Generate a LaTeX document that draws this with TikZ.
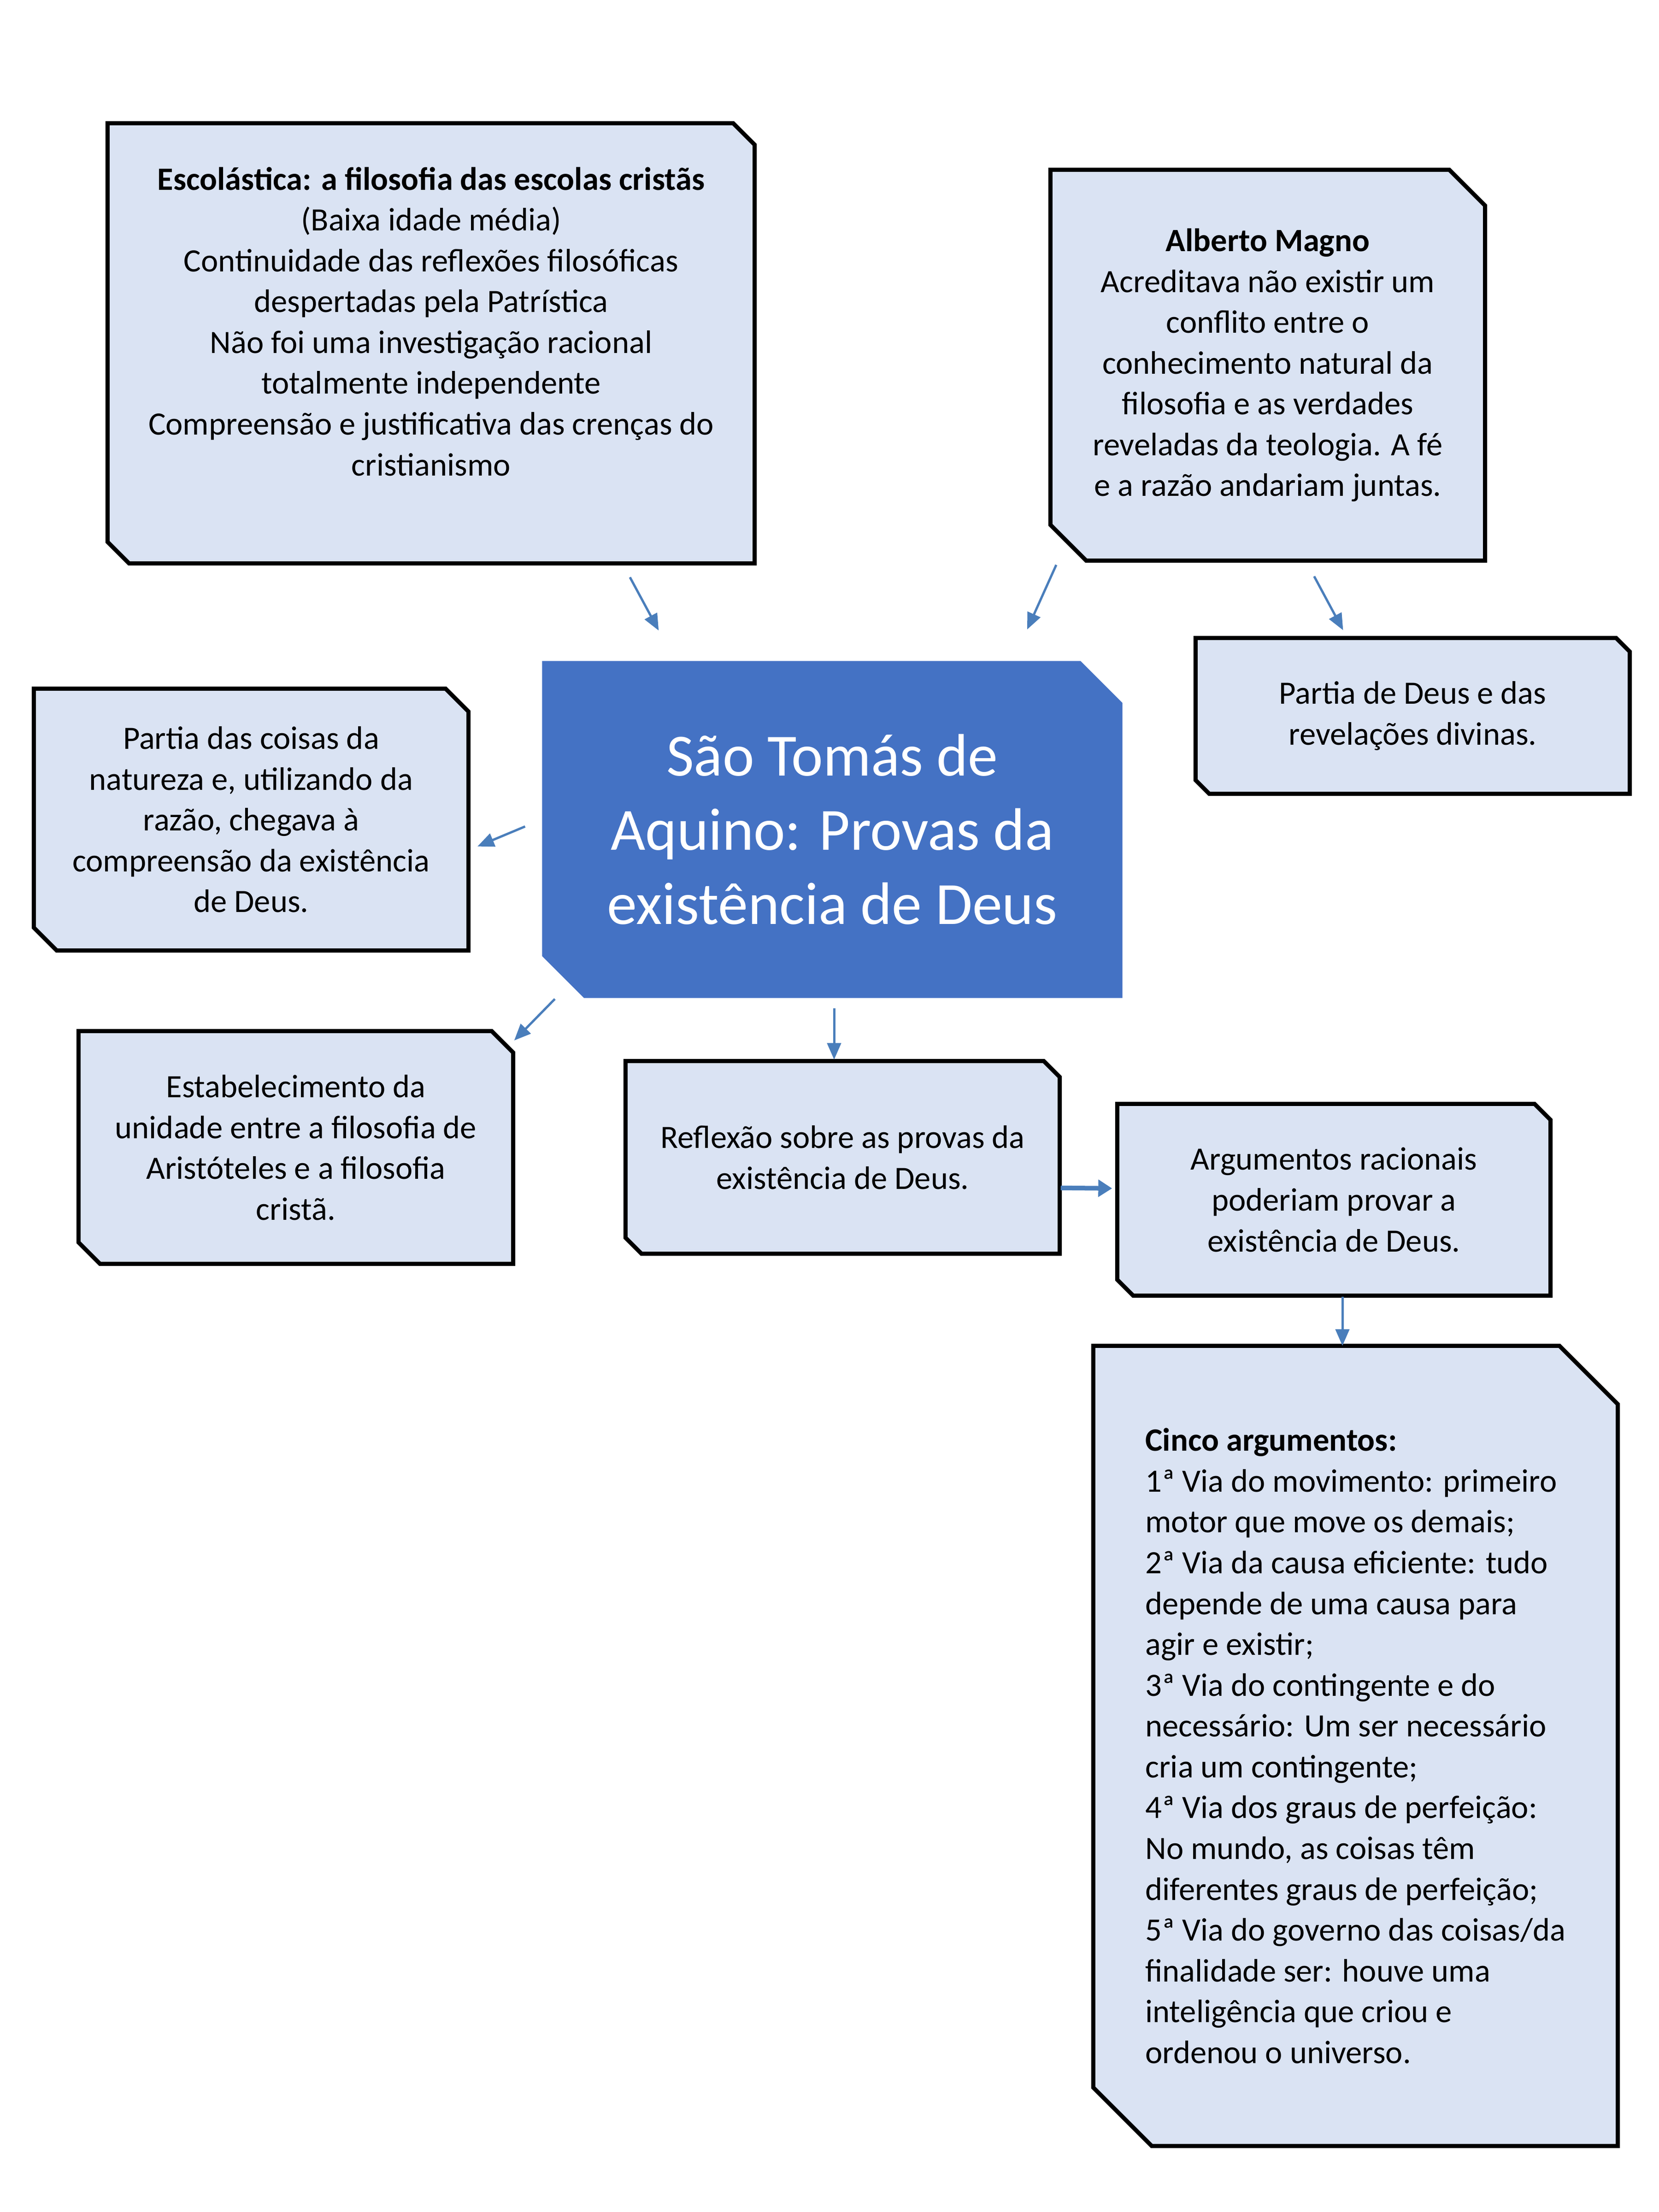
\documentclass[tikz,border=0pt]{standalone}
\usepackage{fontspec}
\setmainfont{Carlito}
\usetikzlibrary{arrows.meta,backgrounds}

\definecolor{boxfill}{HTML}{DAE3F3}
\definecolor{cenblue}{HTML}{4472C4}
\definecolor{arrblue}{HTML}{4A7EBB}

\begin{document}
\begin{tikzpicture}[
  box/.style={draw=none, inner sep=0pt, align=center,
    font=\fontsize{20.1pt}{25.2pt}\selectfont},
  cen/.style={box, text=white, font=\fontsize{37pt}{45.8pt}\selectfont},
  boxline/.style={draw=black, line width=0.09cm, fill=boxfill},
  arr/.style={draw=arrblue, line width=0.05cm,
    -{Triangle[length=0.36cm,width=0.3cm]}}
]

\useasboundingbox (0,0) rectangle (36,-48);

% boxes
\node [box, minimum width=14.03cm, minimum height=9.54cm] (esc) at (9.355,-7.45)
  {\textbf{Escolástica: a filosofia das escolas cristãs}\\(Baixa idade média)\\
   Continuidade das reflexões filosóficas\\despertadas pela Patrística\\
   Não foi uma investigação racional\\totalmente independente\\
   Compreensão e justificativa das crenças do\\cristianismo\\[0.07cm]\mbox{}};
\node [box, minimum width=9.42cm, minimum height=8.47cm] (alb) at (27.51,-7.925)
  {\textbf{Alberto Magno}\\Acreditava não existir um\\conflito entre o\\
   conhecimento natural da\\filosofia e as verdades\\
   reveladas da teologia. A fé\\e a razão andariam juntas.};
\node [box, minimum width=9.41cm, minimum height=3.37cm] (deus) at (30.655,-15.535)
  {Partia de Deus e das\\revelações divinas.};
\node [box, minimum width=9.42cm, minimum height=5.67cm] (coisas) at (5.45,-17.785)
  {Partia das coisas da\\natureza e, utilizando da\\razão, chegava à\\
   compreensão da existência\\de Deus.};
\node [cen, minimum width=12.58cm, minimum height=7.30cm] (cen) at (18.06,-18.0)
  {São Tomás de\\Aquino: Provas da\\existência de Deus};
\node [box, minimum width=9.42cm, minimum height=5.04cm] (estab) at (6.42,-24.9)
  {Estabelecimento da\\unidade entre a filosofia de\\
   Aristóteles e a filosofia\\cristã.};
\node [box, minimum width=9.41cm, minimum height=4.17cm] (refl) at (18.285,-25.115)
  {Reflexão sobre as provas da\\existência de Deus.};
\node [box, minimum width=9.39cm, minimum height=4.15cm] (arg) at (28.945,-26.035)
  {Argumentos racionais\\poderiam provar a\\existência de Deus.};
\node [box, align=left, minimum width=11.37cm, minimum height=17.35cm] (cinco) at (29.415,-37.885)
  {\textbf{Cinco argumentos:}\\
   1ª Via do movimento: primeiro\\motor que move os demais;\\
   2ª Via da causa eficiente: tudo\\depende de uma causa para\\agir e existir;\\
   3ª Via do contingente e do\\necessário: Um ser necessário\\cria um contingente;\\
   4ª Via dos graus de perfeição:\\No mundo, as coisas têm\\diferentes graus de perfeição;\\
   5ª Via do governo das coisas/da\\finalidade ser: houve uma\\
   inteligência que criou e\\ordenou o universo.};

% cut corners behind the text
\begin{pgfonlayer}{background}
\foreach \n/\c in {esc/0.47, alb/0.78, deus/0.3, coisas/0.5, estab/0.47, refl/0.35, arg/0.35, cinco/1.27}
  \draw [boxline] (\n.north west) -- ([xshift=-\c cm]\n.north east) -- ([yshift=-\c cm]\n.north east)
    -- (\n.south east) -- ([xshift=\c cm]\n.south west) -- ([yshift=\c cm]\n.south west) -- cycle;
\fill [cenblue] (cen.north west) -- ([xshift=-0.91cm]cen.north east) -- ([yshift=-0.91cm]cen.north east)
  -- (cen.south east) -- ([xshift=0.91cm]cen.south west) -- ([yshift=0.91cm]cen.south west) -- cycle;
\end{pgfonlayer}

% arrows
\draw [arr, shorten <=0.34cm, shorten >=0.75cm] (esc.-49.7) -- (cen.133.55);
\draw [arr, shorten <=0.1cm, shorten >=0.75cm] (alb.-137.15) -- (cen.43.97);
\draw [arr, shorten <=0.385cm, shorten >=0.19cm] (alb.-79.32) -- (deus.130.6);
\draw [arr, shorten <=0.4cm, shorten >=0.21cm] (cen.178.28) -- (coisas.-8.64);
\draw [arr, shorten <=0.03cm, shorten >=0.03cm] ([xshift=-6cm]cen.south) -- (estab.26.52);
\draw [arr, shorten <=0.22cm, shorten >=0.03cm] ([xshift=0.04cm]cen.south) -- ([xshift=0.04cm]cen.south |- refl.north);
\draw [arr, line width=0.1cm, -{Triangle[length=0.3cm,width=0.36cm]},
  shorten <=0.02cm, shorten >=0.11cm] (refl.-8.64) -- (arg.177.5);
\draw [arr, shorten <=0.02cm] ([xshift=0.185cm]arg.south) -- ([xshift=0.185cm]arg.south |- cinco.north);

\end{tikzpicture}
\end{document}
